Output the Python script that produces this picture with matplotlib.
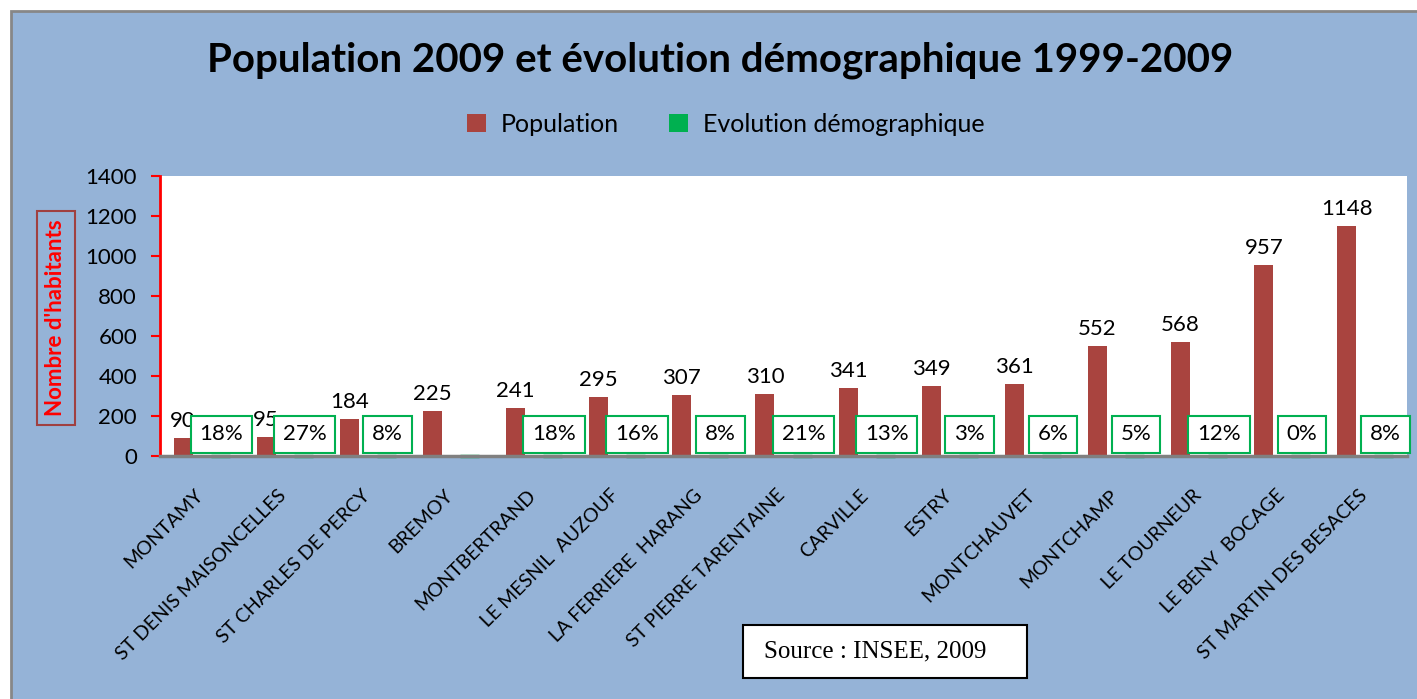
import matplotlib
matplotlib.use("Agg")
import matplotlib.pyplot as plt
from matplotlib.patches import Patch, Rectangle
from matplotlib.transforms import ScaledTranslation
import numpy as np

communes = [
    "MONTAMY", "ST DENIS MAISONCELLES", "ST CHARLES DE PERCY", "BREMOY",
    "MONTBERTRAND", "LE MESNIL  AUZOUF", "LA FERRIERE  HARANG",
    "ST PIERRE TARENTAINE", "CARVILLE", "ESTRY", "MONTCHAUVET",
    "MONTCHAMP", "LE TOURNEUR", "LE BENY  BOCAGE", "ST MARTIN DES BESACES",
]
population = [90, 95, 184, 225, 241, 295, 307, 310, 341, 349, 361, 552, 568, 957, 1148]
# evolution 1999-2009 (fraction); Bremoy has no label in the source
evolution = [0.18, 0.27, 0.08, None, 0.18, 0.16, 0.08, 0.21, 0.13, 0.03, 0.06, 0.05, 0.12, 0.00, 0.08]
yticks = [0, 200, 400, 600, 800, 1000, 1200, 1400]

RED = "#A9443F"
GREEN = "#00B050"
BG = "#95B3D7"

plt.rcParams["font.family"] = ["Lato", "DejaVu Sans"]

fig = plt.figure(figsize=(14.17, 6.99), dpi=100)
fig.patch.set_facecolor("white")
fig.patches.append(Rectangle((11 / 1417, -0.01), 1.02, 1 - 11 / 699 + 0.01,
                             transform=fig.transFigure, facecolor=BG,
                             edgecolor="#878787", linewidth=2, zorder=-5))

ax = fig.add_axes([160 / 1417, 1 - 456 / 699, (1407 - 160) / 1417, (456 - 176) / 699])
ax.set_facecolor("white")

x = np.arange(len(communes))
off = 0.223
w = 0.229
evo_h = [0 if v is None else v for v in evolution]

ax.bar(x - off, population, width=w, color=RED, zorder=3)
ax.bar(x + off, evo_h, width=w, bottom=0, color=GREEN, edgecolor=GREEN,
       linewidth=2.5, zorder=2, clip_on=False)

for xi, p in zip(x, population):
    ax.annotate(str(p), (xi - off, p), xytext=(0, 5), textcoords="offset points",
                ha="center", va="bottom", fontsize=16, color="black", zorder=5)

for xi, v in zip(x, evolution):
    if v is None:
        continue
    ax.annotate(f"{v * 100:.0f}%", (xi + off, 0), xytext=(1, 15.5), textcoords="offset points",
                ha="center", va="center", fontsize=16, color="black", zorder=5,
                bbox=dict(boxstyle="square,pad=0.4", facecolor="white",
                          edgecolor=GREEN, linewidth=1.5))

ax.set_xlim(-0.5, len(communes) - 0.5)
ax.set_ylim(0, 1400)
ax.set_yticks(yticks)
ax.set_yticklabels([str(t) for t in yticks], fontsize=16)
ax.set_xticks(x)
ax.set_xticklabels(communes, rotation=45, ha="right", va="top",
                   rotation_mode="anchor", fontsize=14)
ax.tick_params(axis="x", length=0, pad=22)
ax.tick_params(axis="y", colors="red", labelcolor="black", length=6.5, width=1.5,
               direction="out", pad=10)
shift = ScaledTranslation(-5 / 72, 0, fig.dpi_scale_trans)
for lbl in ax.get_xticklabels():
    lbl.set_transform(lbl.get_transform() + shift)

for s in ["top", "right"]:
    ax.spines[s].set_visible(False)
ax.spines["left"].set_color("red")
ax.spines["left"].set_linewidth(2)
ax.spines["bottom"].set_color("#808080")
ax.spines["bottom"].set_linewidth(2.5)
ax.spines["bottom"].set_zorder(4)

fig.text(0.508, 1 - 60 / 699, "Population 2009 et évolution démographique 1999-2009",
         ha="center", va="center", fontsize=29, fontweight="bold")

handles = [Patch(facecolor=RED), Patch(facecolor=GREEN)]
fig.legend(handles, ["Population", "Evolution démographique"], loc="center",
           bbox_to_anchor=(726 / 1417, 1 - 124 / 699), ncol=2, frameon=False,
           fontsize=18, handlelength=0.75, handleheight=0.75, columnspacing=2.0,
           handletextpad=0.6)

fig.text(56 / 1417, 1 - 318 / 699, "Nombre d'habitants", rotation=90, ha="center",
         va="center", fontsize=16, fontweight="bold", color="red",
         bbox=dict(boxstyle="square,pad=0.4", facecolor="none",
                   edgecolor="#A04040", linewidth=1.5))

fig.patches.append(Rectangle((743 / 1417, 1 - 678 / 699), (1027 - 743) / 1417, 53 / 699,
                             transform=fig.transFigure, facecolor="white",
                             edgecolor="black", linewidth=1.5, zorder=5))
fig.text(764 / 1417, 1 - 651 / 699, "Source : INSEE, 2009", ha="left", va="center",
         fontsize=18, family=["Liberation Serif", "DejaVu Serif"], zorder=6)

fig.savefig("out.png", dpi=100)
